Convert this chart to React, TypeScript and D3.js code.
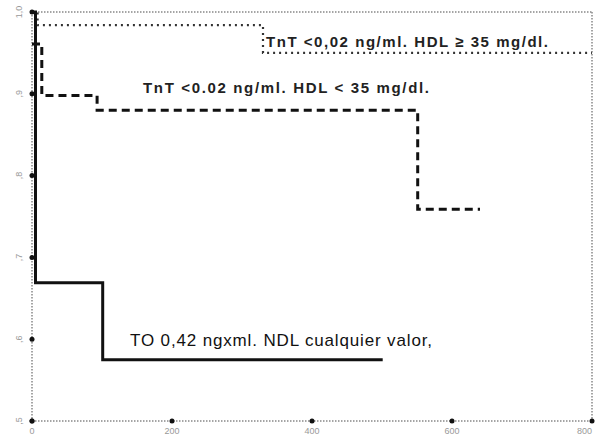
import { useRef, useEffect } from "react";
import * as d3 from "d3";

// survival curves: [days, survival], step after each point
const hdlHigh = [
  [0, 1.0],
  [8, 0.984],
  [330, 0.95],
  [800, 0.95],
];
const hdlLow = [
  [0, 0.961],
  [14, 0.898],
  [93, 0.88],
  [551, 0.759],
  [640, 0.759],
];
const tntHigh = [
  [0, 1.0],
  [5, 0.669],
  [101, 0.575],
  [501, 0.575],
];

const xTicks = [0, 200, 400, 600, 800];
const yTicks = [1.0, 0.9, 0.8, 0.7, 0.6, 0.5];
const yTickLabels = ["1,0", ",9", ",8", ",7", ",6", ",5"];

const labelHigh = "TnT <0,02 ng/ml. HDL \u2265 35 mg/dl.";
const labelLow = "TnT <0.02 ng/ml. HDL < 35 mg/dl.";
const labelTnt = "TO 0,42 ngxml. NDL cualquier valor,";

export default function App() {
  const ref = useRef<SVGSVGElement>(null);
  const width = 597;
  const height = 438;

  useEffect(() => {
    const svg = d3.select(ref.current);
    svg.selectAll("*").remove();

    const x = d3.scaleLinear().domain([0, 800]).range([32, 592]);
    const y = d3.scaleLinear().domain([0.5, 1.0]).range([421, 12]);

    svg.append("rect").attr("width", width).attr("height", height).attr("fill", "#fff");

    // frame, dotted like the scan
    const frame = svg.append("g").attr("stroke", "#888").attr("stroke-width", 1.5).attr("stroke-dasharray", "1.5,1.5");
    frame.append("line").attr("x1", x(0)).attr("x2", x(800)).attr("y1", y(1)).attr("y2", y(1));
    frame.append("line").attr("x1", x(800)).attr("x2", x(800)).attr("y1", y(1)).attr("y2", y(0.5));
    frame.append("line").attr("x1", x(0)).attr("x2", x(800)).attr("y1", y(0.5)).attr("y2", y(0.5));
    frame.append("line").attr("x1", x(0)).attr("x2", x(0)).attr("y1", y(1)).attr("y2", y(0.5));

    // tick marks
    svg.selectAll(".xt").data(xTicks).join("circle").attr("class", "xt")
      .attr("cx", (d) => x(d)).attr("cy", y(0.5)).attr("r", 2.5).attr("fill", "#111");
    svg.selectAll(".yt").data(yTicks).join("circle").attr("class", "yt")
      .attr("cx", x(0)).attr("cy", (d) => y(d)).attr("r", 2.5).attr("fill", "#111");

    svg.selectAll(".xl").data(xTicks).join("text").attr("class", "xl")
      .attr("x", (d) => x(d)).attr("y", 434)
      .attr("text-anchor", (d, i) => (i === xTicks.length - 1 ? "end" : "middle"))
      .attr("font-family", "Arial, Liberation Sans, sans-serif")
      .attr("font-size", 9).attr("fill", "#999").text((d) => d);
    svg.selectAll(".yl").data(yTicks).join("text").attr("class", "yl")
      .attr("transform", (d) => `translate(19, ${y(d)}) rotate(-90)`)
      .attr("text-anchor", "middle").attr("dy", "0.35em")
      .attr("font-family", "Arial, Liberation Sans, sans-serif")
      .attr("font-size", 9).attr("fill", "#999").text((d, i) => yTickLabels[i]);

    const line = d3.line().x((d) => x(d[0])).y((d) => y(d[1])).curve(d3.curveStepAfter);

    svg.append("path").datum(hdlHigh).attr("d", line).attr("fill", "none")
      .attr("stroke", "#333").attr("stroke-width", 2.2).attr("stroke-dasharray", "2,4");
    svg.append("path").datum(hdlLow).attr("d", line).attr("fill", "none")
      .attr("stroke", "#111").attr("stroke-width", 3).attr("stroke-dasharray", "8,5");
    svg.append("path").datum(tntHigh).attr("d", line).attr("fill", "none")
      .attr("stroke", "#111").attr("stroke-width", 3);

    const font = "Arial, Liberation Sans, sans-serif";
    svg.append("text").attr("x", 266).attr("y", 47).attr("font-family", font)
      .attr("font-size", 15).attr("font-weight", "bold").attr("fill", "#222")
      .attr("textLength", 282).attr("lengthAdjust", "spacing").text(labelHigh);
    svg.append("text").attr("x", 143).attr("y", 93).attr("font-family", font)
      .attr("font-size", 15).attr("font-weight", "bold").attr("fill", "#222")
      .attr("textLength", 286).attr("lengthAdjust", "spacing").text(labelLow);
    svg.append("text").attr("x", 130).attr("y", 346).attr("font-family", font)
      .attr("font-size", 17).attr("fill", "#111")
      .attr("textLength", 302).attr("lengthAdjust", "spacing").text(labelTnt);
  }, []);

  return (
    <svg
      ref={ref}
      width={width}
      height={height}
      style={{ position: "absolute", left: 0, top: 0 }}
    ></svg>
  );
}
